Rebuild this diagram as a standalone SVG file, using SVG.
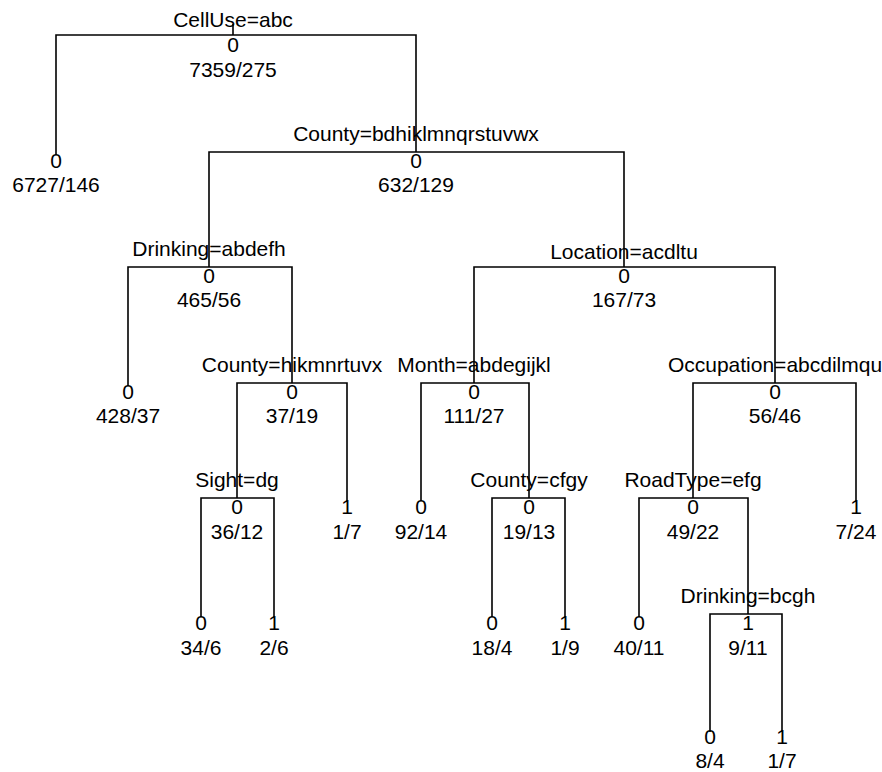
<svg xmlns="http://www.w3.org/2000/svg" width="882" height="772" viewBox="0 0 882 772">
<style>
text{font-family:"Liberation Sans",Arial,sans-serif;font-size:21px;fill:#000;text-anchor:middle}
.e{fill:none;stroke:#000;stroke-width:1.6}
</style>
<rect width="882" height="772" fill="#fff"/>
<g id="connectors" class="e">
<path d="M233,24V35"/>
<path d="M56,155V35H416V152"/>
<path d="M209,267V152H624V267"/>
<path d="M128,386V267H292V383"/>
<path d="M474,383V267H775V383"/>
<path d="M237,498V383H347V501"/>
<path d="M421,501V383H529V498"/>
<path d="M693,498V383H856V501"/>
<path d="M201,617V498H274V617"/>
<path d="M492,617V498H565V617"/>
<path d="M639,617V498H748V614"/>
<path d="M710,732V614H782V732"/>
</g>
<g id="n1"><text x="233" y="27">CellUse=abc</text><text x="233" y="51.5">0</text><text x="233" y="77">7359/275</text></g>
<g id="n2"><text x="56" y="167.5">0</text><text x="56" y="192">6727/146</text></g>
<g id="n3"><text x="416" y="141">County=bdhiklmnqrstuvwx</text><text x="416" y="167.5">0</text><text x="416" y="192">632/129</text></g>
<g id="n4"><text x="209" y="256">Drinking=abdefh</text><text x="209" y="282.5">0</text><text x="209" y="307">465/56</text></g>
<g id="n5"><text x="624" y="259">Location=acdltu</text><text x="624" y="282.5">0</text><text x="624" y="307">167/73</text></g>
<g id="n6"><text x="128" y="398.5">0</text><text x="128" y="423">428/37</text></g>
<g id="n7"><text x="292" y="372">County=hikmnrtuvx</text><text x="292" y="398.5">0</text><text x="292" y="423">37/19</text></g>
<g id="n8"><text x="474" y="372">Month=abdegijkl</text><text x="474" y="398.5">0</text><text x="474" y="423">111/27</text></g>
<g id="n9"><text x="775" y="372">Occupation=abcdilmqu</text><text x="775" y="398.5">0</text><text x="775" y="423">56/46</text></g>
<g id="n10"><text x="237" y="487">Sight=dg</text><text x="237" y="514">0</text><text x="237" y="539">36/12</text></g>
<g id="n11"><text x="347" y="514">1</text><text x="347" y="539">1/7</text></g>
<g id="n12"><text x="421" y="514">0</text><text x="421" y="539">92/14</text></g>
<g id="n13"><text x="529" y="487">County=cfgy</text><text x="529" y="514">0</text><text x="529" y="539">19/13</text></g>
<g id="n14"><text x="693" y="487">RoadType=efg</text><text x="693" y="514">0</text><text x="693" y="539">49/22</text></g>
<g id="n15"><text x="856" y="514">1</text><text x="856" y="539">7/24</text></g>
<g id="n16"><text x="201" y="630">0</text><text x="201" y="655">34/6</text></g>
<g id="n17"><text x="274" y="630">1</text><text x="274" y="655">2/6</text></g>
<g id="n18"><text x="492" y="630">0</text><text x="492" y="655">18/4</text></g>
<g id="n19"><text x="565" y="630">1</text><text x="565" y="655">1/9</text></g>
<g id="n20"><text x="639" y="630">0</text><text x="639" y="655">40/11</text></g>
<g id="n21"><text x="748" y="603">Drinking=bcgh</text><text x="748" y="630">1</text><text x="748" y="655">9/11</text></g>
<g id="n22"><text x="710" y="744">0</text><text x="710" y="768">8/4</text></g>
<g id="n23"><text x="782" y="744">1</text><text x="782" y="768">1/7</text></g>
</svg>
